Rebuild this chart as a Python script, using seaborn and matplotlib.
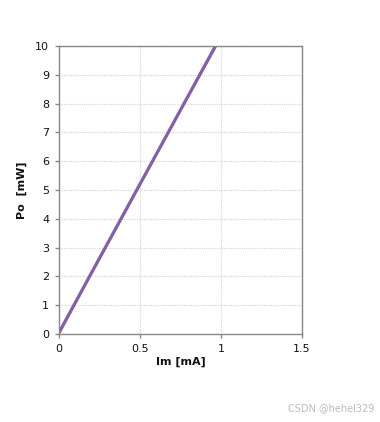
import matplotlib
matplotlib.use("Agg")
import matplotlib.pyplot as plt
import seaborn as sns
import pandas as pd

im_ma = [0.0, 0.2, 0.4, 0.6, 0.8, 0.97]
po_a = [0.05, 2.12, 4.18, 6.24, 8.3, 10.05]
po_b = [0.0, 2.08, 4.14, 6.2, 8.26, 10.0]

sns.set_theme(style="white")
plt.rcParams['font.family'] = ['DejaVu Sans']

fig = plt.figure(figsize=(3.8, 4.22), dpi=100)
ax = fig.add_axes([0.155, 0.2085, 0.64, 0.6825])

df = pd.DataFrame({"Im": im_ma * 2, "Po": po_b + po_a,
                   "s": ["b"] * len(im_ma) + ["a"] * len(im_ma)})
sns.lineplot(data=df[df.s == "b"], x="Im", y="Po", ax=ax, color="#C0504D", lw=1.5)
sns.lineplot(data=df[df.s == "a"], x="Im", y="Po", ax=ax, color="#7F63A8", lw=2.2)

ax.set_xlim(0, 1.5)
ax.set_ylim(0, 10)
ax.set_xticks([0, 0.5, 1, 1.5])
ax.set_xticklabels(["0", "0.5", "1", "1.5"])
ax.set_yticks(range(0, 11))
ax.grid(True, color="#D4D4D4", linestyle=(0, (1, 1)), lw=0.8)
for s in ax.spines.values():
    s.set_color("#888888")
    s.set_linewidth(1)
ax.tick_params(axis="both", which="both", direction="out", length=3, width=1,
               color="#888888", labelsize=8, labelcolor="#111111", pad=4,
               left=True, bottom=True)
ax.set_xlabel("Im [mA]", fontsize=8, fontweight="bold", labelpad=2, color="#111111")
ax.set_ylabel("Po  [mW]", fontsize=8, fontweight="bold", labelpad=6, color="#111111")

fig.text(0.985, 0.022, "CSDN @hehel329", ha="right", va="bottom", fontsize=7, color="#BBBBBB")
fig.savefig("out.png", dpi=100)
